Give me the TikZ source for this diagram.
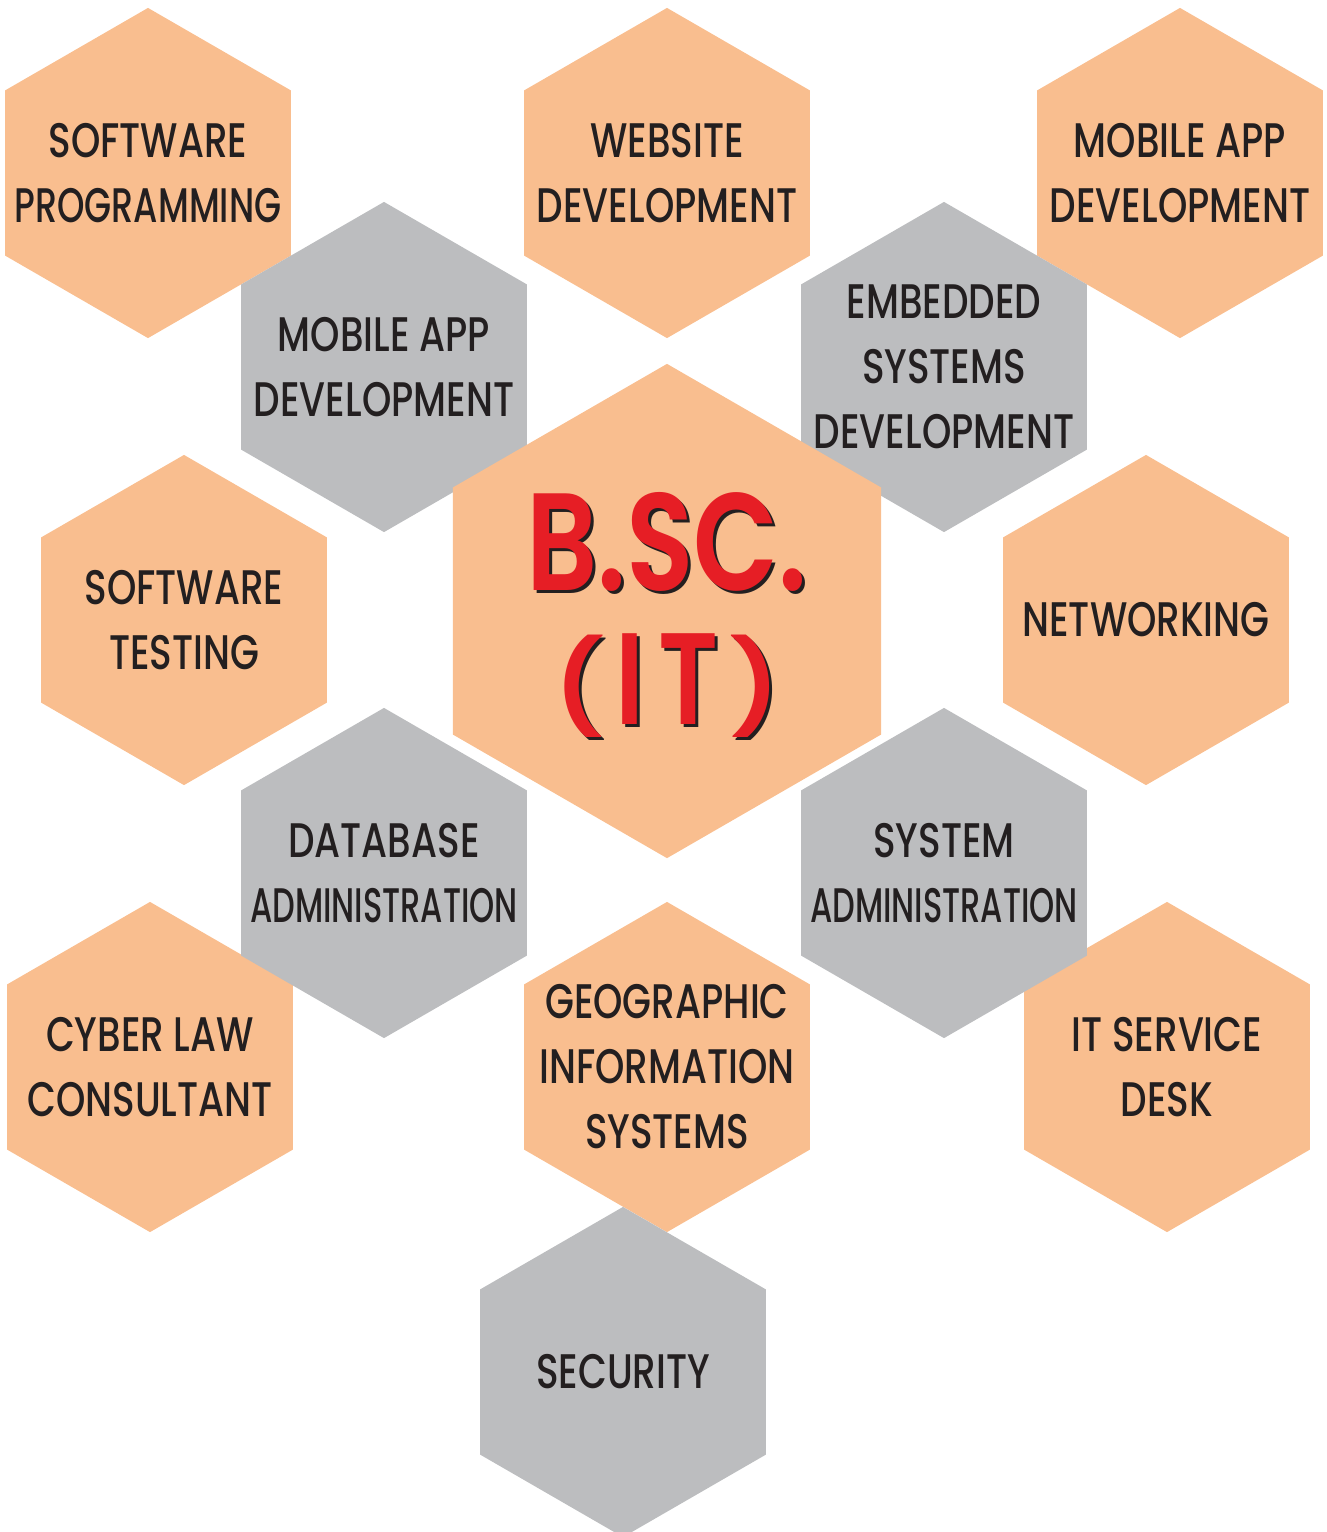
\documentclass[tikz,border=0pt]{standalone}
\usepackage{fontspec}
\usepackage{tikz}
\usetikzlibrary{shapes.geometric}
\newfontfamily\hexfont[FakeStretch=0.77]{Poppins Medium}
\newfontfamily\hexmid[FakeStretch=0.72]{Poppins Medium}
\newfontfamily\hexnarrow[FakeStretch=0.66]{Poppins Medium}
\newfontfamily\bscfont[FakeStretch=0.8]{Poppins SemiBold}
\definecolor{peach}{HTML}{F9BE8F}
\definecolor{hexgray}{HTML}{BCBDBF}
\definecolor{bscred}{HTML}{E61E25}
\definecolor{ink}{HTML}{231F20}
\newcommand\bscparen[1]{\raisebox{1.5pt}{\scalebox{1.45}[1]{\fontsize{26}{26}\selectfont#1}}}
\newcommand\bsctext{\fontsize{39.4}{41}\selectfont B.SC.\\[11pt]%
  \fontsize{37}{41}\selectfont
  \bscparen{(}\hspace{3pt}I\hspace{4pt}T\hspace{3pt}\bscparen{)}}

\begin{document}
\begin{tikzpicture}[x=0.01cm,y=-0.01cm,
  hexa/.style={regular polygon,regular polygon sides=6,shape border rotate=30,
    minimum size=3.3cm,inner sep=0pt,outer sep=0pt,draw=none},
  lbl/.style={align=center,text=ink,inner sep=0pt,
    font=\hexfont\fontsize{13.8}{18.5}\selectfont}]
\useasboundingbox (0,0) rectangle (1327,1532);
% outer orange cells
\foreach \n/\x/\y in {swprog/148/173,webdev/667/173,mobdev/1180/173,
    swtest/184/620,netw/1146/620,cyber/150/1067,geo/667/1067,itdesk/1167/1067}
  \node[hexa,fill=peach] (\n) at (\x,\y) {};
% grey cells
\foreach \n/\x/\y in {mobapp/384/367,embed/944/367,dbadmin/384/873,sysadmin/944/873}
  \node[hexa,fill=hexgray] (\n) at (\x,\y) {};
% centre
\node[hexa,fill=peach,minimum size=4.94cm] (bsc) at (667,611) {};
\node[hexa,fill=hexgray] (secur) at (623,1372) {};
% labels
\foreach \n/\t in {swprog/{SOFTWARE\\{\hexmid PROGRAMMING}},webdev/{WEBSITE\\DEVELOPMENT},
    mobdev/{MOBILE APP\\DEVELOPMENT},mobapp/{MOBILE APP\\DEVELOPMENT},
    embed/{EMBEDDED\\SYSTEMS\\DEVELOPMENT},swtest/{SOFTWARE\\TESTING},
    netw/{NETWORKING},dbadmin/{DATABASE\\{\hexnarrow ADMINISTRATION}},
    sysadmin/{SYSTEM\\{\hexnarrow ADMINISTRATION}},cyber/{CYBER LAW\\CONSULTANT},
    geo/{GEOGRAPHIC\\INFORMATION\\SYSTEMS},itdesk/{IT SERVICE\\DESK},
    secur/{SECURITY}}
  \node[lbl] (\n-t) at (\n) {\t};
% title with its shadow
\node[align=center,text=ink,inner sep=0pt,font=\bscfont] (bsc-s) at (670,618) {\bsctext};
\node[align=center,text=bscred,inner sep=0pt,font=\bscfont] (bsc-t) at (667,615) {\bsctext};
\end{tikzpicture}
\end{document}
